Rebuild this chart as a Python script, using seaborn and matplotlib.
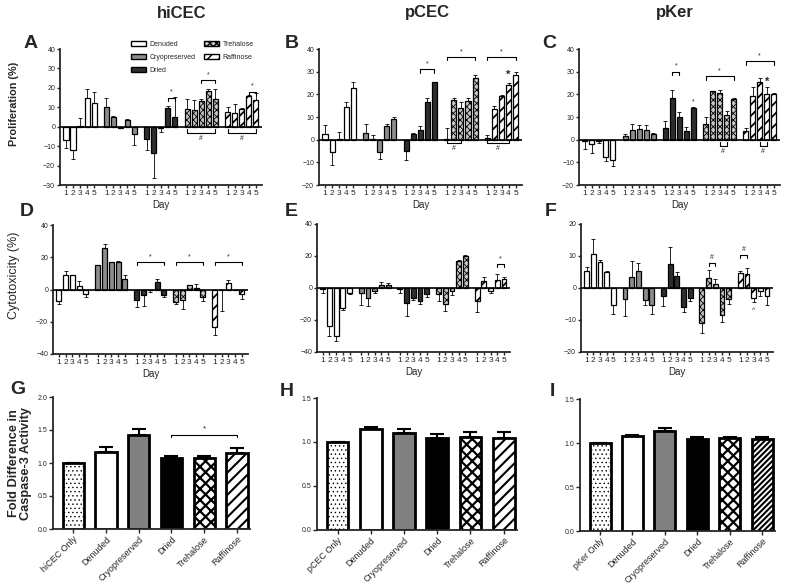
import numpy as np
import pandas as pd
import matplotlib.pyplot as plt
import seaborn as sns
from matplotlib.patches import Patch

# Groups / days
groups = ['Denuded', 'Cryopreserved', 'Dried', 'Trehalose', 'Raffinose']
days = [1, 2, 3, 4, 5]
cells = ['hiCEC', 'pCEC', 'pKer']

# Proliferation (%) - one list per group, days 1..5
prolif_hicec = [[-6.8, -11.8, 0.5, 14.6, 12.2], [10.3, 5.2, -0.5, 3.4, -3.8], [-6.2, -13.4, -0.5, 9.4, 4.8],
                [9.1, 8.5, 13.0, 18.3, 14.2], [7.7, 7.2, 9.2, 16.0, 13.9]]
prolif_hicec_err = [[4.0, 4.6, 3.8, 4.6, 5.6], [4.3, 0.3, 0.3, 0.5, 5.6], [5.8, 13.2, 2.0, 1.2, 10.5],
                    [5.0, 5.5, 1.5, 1.3, 5.0], [2.3, 4.5, 0.5, 0.5, 3.2]]
prolif_pcec = [[2.4, -5.6, 0.5, 14.3, 23.0], [3.0, 0.3, -5.4, 6.2, 9.0], [-5.2, 2.6, 4.2, 16.6, 25.3],
               [0.5, 17.4, 14.0, 17.0, 27.2], [0.7, 13.6, 19.2, 24.2, 28.6]]
prolif_pcec_err = [[4.1, 5.5, 3.0, 2.2, 2.3], [3.8, 1.6, 3.0, 0.5, 0.8], [3.7, 0.3, 1.8, 2.0, 0.3],
                   [4.5, 1.1, 2.5, 1.2, 1.4], [1.3, 1.2, 0.3, 1.0, 1.2]]
prolif_pker = [[-0.5, -2.0, -0.5, -7.8, -9.0], [1.8, 4.2, 4.6, 4.2, 2.5], [5.2, 18.4, 10.0, 3.7, 13.9],
               [6.7, 21.3, 20.6, 10.9, 17.9], [3.7, 19.1, 25.4, 20.1, 20.1]]
prolif_pker_err = [[3.5, 4.0, 1.0, 1.6, 2.6], [0.9, 2.5, 1.8, 2.2, 0.3], [3.0, 3.7, 2.4, 2.0, 0.6],
                   [3.3, 0.3, 1.3, 1.8, 0.5], [1.5, 4.3, 1.8, 3.0, 0.3]]

# Cytotoxicity (%)
cyto_hicec = [[-6.9, 8.8, 8.8, 2.1, -3.1], [15.0, 25.6, 17.0, 17.0, 6.7], [-6.3, -3.3, -0.5, 4.4, -3.5],
              [-7.7, -6.7, 2.5, 1.0, -4.8], [-23.3, -0.3, 4.2, 0.0, -2.7]]
cyto_hicec_err = [[2.1, 2.7, 0.4, 3.1, 1.7], [0.3, 2.4, 0.3, 0.5, 2.3], [4.5, 7.0, 1.2, 1.9, 1.3],
                  [1.1, 5.4, 0.3, 2.5, 2.5], [4.8, 13.0, 1.4, 0.0, 3.1]]
cyto_pcec = [[-0.5, -24.0, -30.2, -12.2, -3.3], [-3.3, -6.4, -1.7, 1.9, 1.9], [-0.5, -9.3, -6.4, -8.1, -3.7],
             [-3.9, -9.9, -1.7, 16.8, 20.3], [-8.1, 4.6, -1.9, 5.0, 5.4]]
cyto_pcec_err = [[2.8, 6.2, 3.1, 1.5, 0.3], [7.3, 4.8, 1.2, 2.0, 1.4], [2.8, 8.1, 1.1, 1.8, 2.1],
                 [4.2, 4.2, 2.6, 1.0, 0.3], [7.2, 2.4, 1.0, 3.7, 1.2]]
cyto_pker = [[5.2, 10.6, 8.1, 4.9, -5.2], [-3.4, 3.4, 5.4, -3.8, -5.2], [-2.6, 7.6, 3.6, -5.9, -3.1],
             [-10.9, 3.1, 1.2, -8.5, -3.4], [4.7, 4.4, -3.1, -1.0, -2.4]]
cyto_pker_err = [[1.3, 4.6, 0.5, 0.5, 2.8], [5.2, 5.1, 2.4, 1.4, 2.8], [2.9, 5.1, 1.3, 1.7, 1.1],
                 [3.3, 2.4, 1.6, 2.1, 1.5], [0.5, 2.0, 1.4, 1.4, 2.8]]

# Caspase-3 fold difference
casp_labels = ['Only', 'Denuded', 'Cryopreserved', 'Dried', 'Trehalose', 'Raffinose']
casp_hicec = [1.0, 1.17, 1.42, 1.08, 1.08, 1.15]
casp_hicec_err = [0.0, 0.07, 0.09, 0.03, 0.03, 0.07]
casp_pcec = [1.0, 1.15, 1.10, 1.05, 1.06, 1.05]
casp_pcec_err = [0.0, 0.02, 0.05, 0.04, 0.05, 0.06]
casp_pker = [1.0, 1.08, 1.14, 1.05, 1.06, 1.04]
casp_pker_err = [0.0, 0.01, 0.03, 0.02, 0.01, 0.03]

# significance brackets: (group, day_from, day_to, y, text, above)
br_a = [(2, 4, 5, 15, '*', True), (3, 3, 5, 24, '*', True), (4, 4, 5, 18, '*', True),
        (3, 1, 5, -3, '#', False), (4, 1, 5, -3, '#', False)]
br_b = [(2, 3, 5, 31, '*', True), (3, 1, 5, 36.5, '*', True), (4, 1, 5, 36.5, '*', True),
        (3, 1, 3, -1.5, '#', False), (4, 1, 4, -1.5, '#', False)]
br_c = [(2, 2, 3, 30, '*', True), (3, 1, 5, 28, '*', True), (4, 1, 5, 34.5, '*', True),
        (3, 3, 4, -2.6, '#', False), (4, 3, 4, -2.6, '#', False)]
br_d = [(2, 1, 5, 17, '*', True), (3, 1, 5, 17, '*', True), (4, 1, 5, 17, '*', True)]
br_e = [(4, 4, 5, 15, '*', True)]
br_f = [(3, 2, 3, 7.8, '#', True), (4, 1, 2, 10.4, '#', True)]

GAP = 5.75
face1 = {'Denuded': 'white', 'Cryopreserved': '#8c8c8c', 'Dried': '#2e2e2e',
         'Trehalose': '#c8c8c8', 'Raffinose': 'white'}
hatch1 = {'Denuded': '', 'Cryopreserved': '', 'Dried': '', 'Trehalose': 'xxxxx', 'Raffinose': '///'}

sns.set_theme(style='ticks')
plt.rcParams['font.family'] = ['Liberation Sans', 'DejaVu Sans']
plt.rcParams['axes.linewidth'] = 1.3

fig = plt.figure(figsize=(7.85, 5.85), dpi=100)


def rect(l, r, top, bot):
    return [l / 785, 1 - bot / 585, (r - l) / 785, (bot - top) / 585]


def day_panel(ax, vals, errs, ylim, yticks, brackets):
    rows = []
    for gi, g in enumerate(groups):
        for di, d in enumerate(days):
            rows.append(dict(group=g, day=d, pos=gi * GAP + d, value=vals[gi][di], err=errs[gi][di]))
    df = pd.DataFrame(rows)
    sns.barplot(data=df, x='pos', y='value', hue='group', hue_order=groups, palette=face1,
                native_scale=True, dodge=False, errorbar=None, edgecolor='black', linewidth=0.9,
                width=0.72, legend=False, ax=ax, zorder=2)
    lookup = dict(zip(df['pos'], df['group']))
    for p in ax.patches:
        cx = p.get_x() + p.get_width() / 2
        g = lookup[min(lookup, key=lambda k: abs(k - cx))]
        p.set_hatch(hatch1[g])
        if hasattr(p, 'set_hatch_linewidth'):
            p.set_hatch_linewidth(0.6 if g == 'Trehalose' else 1.3)
    lower = np.where(df['value'] < 0, df['err'], 0)
    upper = np.where(df['value'] >= 0, df['err'], 0)
    ax.errorbar(df['pos'], df['value'], yerr=[lower, upper], fmt='none', ecolor='black',
                elinewidth=0.6, capsize=1.5, capthick=0.6, zorder=1)
    ax.axhline(0, color='black', lw=1.2, zorder=3)
    ax.set_xlim(0.15, 4 * GAP + 5.9)
    ax.set_ylim(*ylim)
    ax.set_yticks(yticks)
    ax.set_xticks(df['pos'])
    ax.set_xticklabels(df['day'], fontsize=6)
    ax.tick_params(axis='x', length=2.5, width=1, pad=1)
    ax.tick_params(axis='y', labelsize=5, length=2.5, width=1, pad=1)
    ax.set_xlabel('Day', fontsize=7, labelpad=2)
    ax.set_ylabel('')
    sns.despine(ax=ax)
    span = ylim[1] - ylim[0]
    d = span * 0.025
    for g, a, b, y, txt, above in brackets:
        x1, x2 = g * GAP + a, g * GAP + b
        s = -d if above else d
        ax.plot([x1, x1, x2, x2], [y + s, y, y, y + s], color='black', lw=0.8, zorder=4)
        ty = y + span * 0.015 if above else y - span * 0.015
        ax.text((x1 + x2) / 2, ty, txt, ha='center', va='bottom' if above else 'top', fontsize=5)


def casp_panel(ax, cell, vals, errs, ymax, rhatch):
    cats = [f'{cell} Only'] + casp_labels[1:]
    faces = ['white', 'white', '#808080', 'black', 'white', 'white']
    hatches = ['....', '', '', '', 'xxx', rhatch]
    sns.barplot(x=cats, y=vals, hue=cats, palette=dict(zip(cats, faces)), legend=False,
                errorbar=None, width=0.65, edgecolor='black', linewidth=2, ax=ax, zorder=2)
    for p in ax.patches:
        i = int(round(p.get_x() + p.get_width() / 2))
        p.set_hatch(hatches[i])
        if hasattr(p, 'set_hatch_linewidth'):
            p.set_hatch_linewidth({'....': 0.5, 'xxx': 1.6}.get(hatches[i], 1.5))
    ax.errorbar(range(len(cats)), vals, yerr=[np.zeros(len(vals)), errs], fmt='none',
                ecolor='black', elinewidth=1.5, capsize=5, capthick=1.5, zorder=1)
    ax.set_xlim(-0.62, 5.4)
    ax.set_ylim(0, ymax)
    ax.set_yticks(np.arange(0, ymax + 0.01, 0.5))
    ax.set_yticklabels([f'{t:.1f}' for t in np.arange(0, ymax + 0.01, 0.5)])
    ax.set_xticks(range(len(cats)))
    ax.set_xticklabels(cats, rotation=45, ha='right', rotation_mode='anchor', fontsize=6.5)
    ax.tick_params(axis='x', length=3, width=1, pad=1)
    ax.tick_params(axis='y', labelsize=5, length=3, width=1, pad=1)
    sns.despine(ax=ax)


# Row 1 - proliferation
ax_a = fig.add_axes(rect(60, 262, 49, 185))
ax_b = fig.add_axes(rect(319, 522, 49, 185))
ax_c = fig.add_axes(rect(579, 780, 49, 185))
day_panel(ax_a, prolif_hicec, prolif_hicec_err, (-30, 40), range(-30, 41, 10), br_a)
day_panel(ax_b, prolif_pcec, prolif_pcec_err, (-20, 40), range(-20, 41, 10), br_b)
day_panel(ax_c, prolif_pker, prolif_pker_err, (-20, 40), range(-20, 41, 10), br_c)
ax_b.text(4 * GAP + 4, 26.5, '*', ha='center', va='bottom', fontsize=8, fontweight='bold')
ax_c.text(4 * GAP + 4, 23.5, '*', ha='center', va='bottom', fontsize=8, fontweight='bold')
ax_c.text(2 * GAP + 5, 15.2, '*', ha='center', va='bottom', fontsize=5)
ax_a.set_ylabel('Proliferation (%)', fontsize=7.8, fontweight='bold')
ax_a.yaxis.set_label_coords(-0.205, 0.6)

handles = [Patch(facecolor=face1[g], edgecolor='black', hatch=hatch1[g], label=g) for g in groups]
ax_a.legend(handles=handles, ncol=2, loc='upper left', bbox_to_anchor=(0.35, 1.06), frameon=False,
            fontsize=5, borderaxespad=0, borderpad=0, handlelength=2.2, handleheight=0.7,
            columnspacing=1.2, labelspacing=0.9, handletextpad=0.5)

# Row 2 - cytotoxicity
ax_d = fig.add_axes(rect(53, 248, 225, 354))
ax_e = fig.add_axes(rect(317, 510, 224, 352))
ax_f = fig.add_axes(rect(581, 773, 224, 352))
day_panel(ax_d, cyto_hicec, cyto_hicec_err, (-40, 40), range(-40, 41, 20), br_d)
day_panel(ax_e, cyto_pcec, cyto_pcec_err, (-40, 40), range(-40, 41, 20), br_e)
day_panel(ax_f, cyto_pker, cyto_pker_err, (-20, 20), range(-20, 21, 10), br_f)
ax_f.text(4 * GAP + 3, -6, '^', ha='center', va='top', fontsize=5)
ax_d.set_ylabel('Cytotoxicity (%)', fontsize=9)
ax_d.yaxis.set_label_coords(-0.17, 0.61)

# Row 3 - caspase-3
ax_g = fig.add_axes(rect(53, 250, 397, 529))
ax_h = fig.add_axes(rect(317, 517, 398, 530))
ax_i = fig.add_axes(rect(580, 775, 399, 531))
casp_panel(ax_g, 'hiCEC', casp_hicec, casp_hicec_err, 2.0, '///')
casp_panel(ax_h, 'pCEC', casp_pcec, casp_pcec_err, 1.5, '///')
casp_panel(ax_i, 'pKer', casp_pker, casp_pker_err, 1.5, '//////')
ax_g.plot([3, 3, 5, 5], [1.39, 1.43, 1.43, 1.39], color='black', lw=0.8)
ax_g.text(4, 1.47, '*', ha='center', va='bottom', fontsize=6)
ax_g.set_ylabel('Fold Difference in\nCaspase-3 Activity', fontsize=9.2, fontweight='bold', linespacing=1.0)
ax_g.yaxis.set_label_coords(-0.105, 0.5)

# Column titles and panel letters
for x, t in zip([182, 427, 675], cells):
    fig.text(x / 785, 1 - 13 / 585, t, ha='center', va='center', fontsize=12, fontweight='bold')
for t, x, y in [('A', 31, 43), ('B', 292, 43), ('C', 549, 43),
                ('D', 27, 211), ('E', 291, 211), ('F', 551, 211),
                ('G', 18, 390), ('H', 287, 392), ('I', 552, 392)]:
    fig.text(x / 785, 1 - y / 585, t, ha='center', va='center', fontsize=14, fontweight='bold')

plt.savefig('out.png', dpi=100)
